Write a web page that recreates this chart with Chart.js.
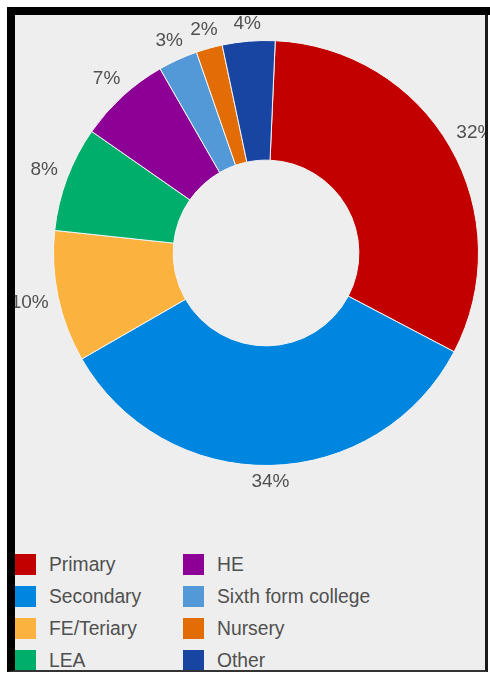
<!DOCTYPE html>
<html>
<head>
<meta charset="utf-8">
<script src="https://cdn.jsdelivr.net/npm/chart.js@4.4.1/dist/chart.umd.min.js"></script>
<style>
body{margin:0;background:#fff;width:490px;height:675px;overflow:hidden;font-family:"Liberation Sans",Arial,sans-serif;}
#frame{position:absolute;left:7px;top:7px;width:481px;height:665px;box-sizing:border-box;
  border-left:8px solid #000;border-top:8px solid #000;border-right:3px solid #1a1a1a;border-bottom:2px solid #333;
  background:#eeeeee;overflow:hidden;}
#topbar{position:absolute;left:7px;top:7px;width:483px;height:8px;background:#000;}
#Piecanvas{position:absolute;left:0;top:0;}
#legend{position:absolute;left:0;top:539px;}
.item{position:absolute;height:21px;white-space:nowrap;}
.item span.box{position:absolute;left:0;top:0;width:21px;height:21px;}
.item span.txt{position:absolute;left:34px;top:0;line-height:21px;font-size:19.3px;color:#505050;}
</style>
</head>
<body>
<div id="frame">
  <canvas id="Piecanvas" width="470" height="500"></canvas>
  <div id="legend"></div>
</div>
<div id="topbar"></div>
<script>
// share of staff by sector (percent)
var sectors = ["Primary", "Secondary", "FE/Teriary", "LEA", "HE", "Sixth form college", "Nursery", "Other"];
var shares = [32, 34, 10, 8, 7, 3, 2, 4];
var colours = ["#c20000", "#0086de", "#fbb23e", "#00ae6c", "#8c0096", "#5399d8", "#e26c06", "#1745a1"];

// percent labels just outside the ring, pushed out by half the text box
var outsideLabels = {
    id: 'outsideLabels',
    afterDatasetsDraw: function(chart){
        var ctx = chart.ctx;
        var arcs = chart.getDatasetMeta(0).data;
        var total = 0;
        for(var i=0;i<shares.length;i++) total = total + shares[i];
        ctx.save();
        ctx.font = '19px "Liberation Sans", Arial, sans-serif';
        ctx.fillStyle = '#505050';
        ctx.textAlign = 'center';
        ctx.textBaseline = 'middle';
        for(var i=0;i<arcs.length;i++)
        {
            var a = arcs[i];
            var txt = Math.round(shares[i] / total * 100) + '%';
            var hw = ctx.measureText(txt).width / 2;
            var hh = 7;
            var mid = (a.startAngle + a.endAngle) / 2;
            var c = Math.cos(mid), s = Math.sin(mid);
            var r = a.outerRadius + 9 + Math.abs(c) * hw + Math.abs(s) * hh;
            ctx.fillText(txt, a.x + c * r, a.y + s * r);
        }
        ctx.restore();
    }
};

var PieChartData = {
    labels: sectors,
    datasets: [{
        data: shares,
        backgroundColor: colours,
        borderColor: '#f4f4f4',
        borderWidth: 1
    }]
};

var ctx1 = document.getElementById("Piecanvas").getContext("2d");
window.myPie = new Chart(ctx1, {
    type: 'doughnut',
    data: PieChartData,
    plugins: [outsideLabels],
    options: {
        responsive: false,
        animation: false,
        rotation: 2.5,
        cutout: '43.7%',
        layout: { padding: { left: 38, right: 6, top: 25, bottom: 49 } },
        plugins: {
            legend: { display: false },
            tooltip: { enabled: false }
        }
    }
});

// two column legend, filled top to bottom
var legend = document.getElementById("legend");
var str = '';
for(var i=0;i<sectors.length;i++)
{
    var col = Math.floor(i / 4);
    var row = i % 4;
    str += '<div class="item" style="left:' + (col * 168) + 'px;top:' + (row * 32) + 'px">' +
           '<span class="box" style="background:' + colours[i] + '"></span>' +
           '<span class="txt">' + sectors[i] + '</span></div>';
}
legend.innerHTML = str;
</script>
</body>
</html>
